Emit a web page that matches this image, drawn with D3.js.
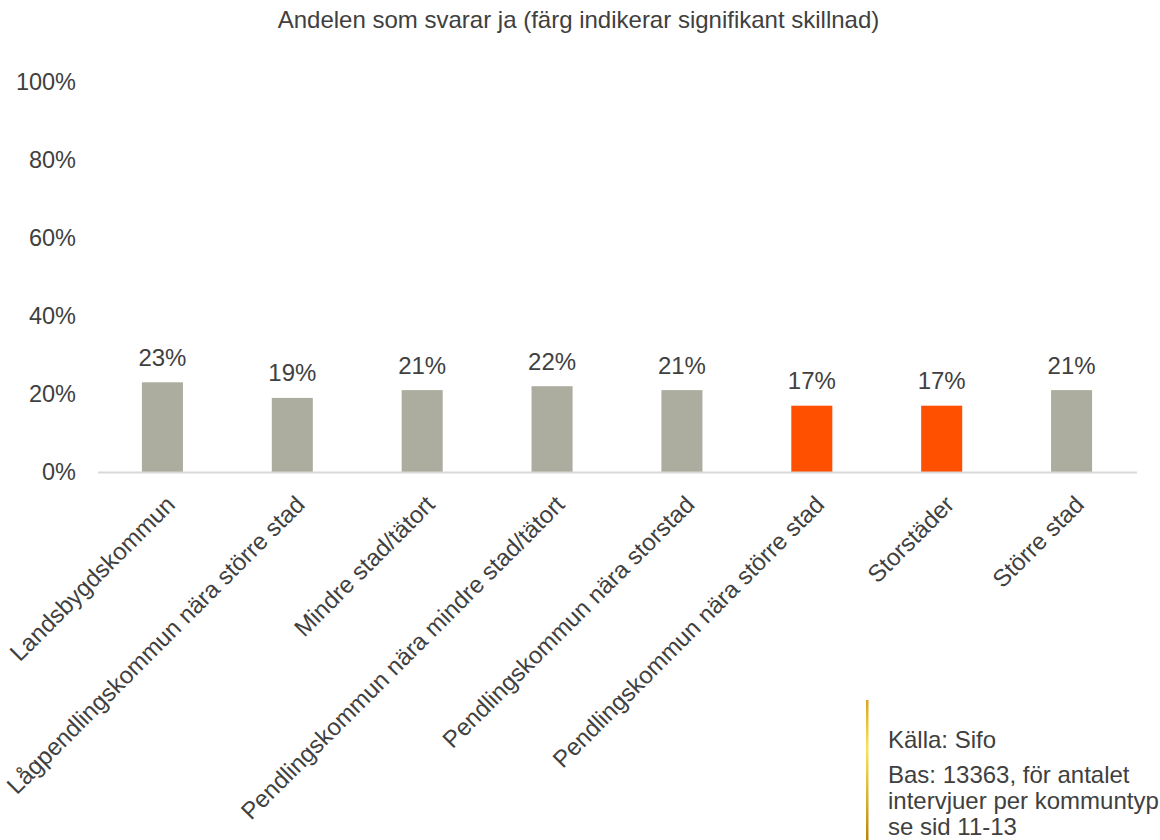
<!DOCTYPE html>
<html>
<head>
<meta charset="utf-8">
<script src="https://cdn.jsdelivr.net/npm/d3@7"></script>
<style>
  html, body { margin: 0; padding: 0; background: #ffffff; }
  svg { display: block; font-family: "Liberation Sans", Arial, Helvetica, sans-serif; }
</style>
</head>
<body>
<svg id="chart" width="1160" height="840"></svg>
<script>
// ---- Data ----
const title = "Andelen som svarar ja (färg indikerar signifikant skillnad)";
const categories = [
  "Landsbygdskommun",
  "Lågpendlingskommun nära större stad",
  "Mindre stad/tätort",
  "Pendlingskommun nära mindre stad/tätort",
  "Pendlingskommun nära storstad",
  "Pendlingskommun nära större stad",
  "Storstäder",
  "Större stad"
];
const values = [0.23, 0.19, 0.21, 0.22, 0.21, 0.17, 0.17, 0.21];
const significant = [false, false, false, false, false, true, true, false];
const yTicks = [0, 0.2, 0.4, 0.6, 0.8, 1.0];
const sourceLines = ["Källa: Sifo", "Bas: 13363, för antalet", "intervjuer per kommuntyp", "se sid 11-13"];

// ---- Styles ----
const textColor = "#404040";
const barGrey = "#adad9f";
const barOrange = "#ff5000";

const svg = d3.select("#chart");

const x = d3.scaleBand()
  .domain(categories)
  .range([97.5, 1136.5])
  .paddingInner(0.684)
  .paddingOuter(0.342);

const y = d3.scaleLinear().domain([0, 1]).range([472, 82]);

// Title
svg.append("text")
  .attr("x", 578.5).attr("y", 28)
  .attr("text-anchor", "middle")
  .attr("font-size", 24)
  .attr("fill", textColor)
  .text(title);

// Y axis (labels only)
const yAxis = d3.axisLeft(y)
  .tickValues(yTicks)
  .tickFormat(d3.format(".0%"))
  .tickSize(0)
  .tickPadding(0);
const gy = svg.append("g").attr("transform", "translate(76,0)").call(yAxis);
gy.select(".domain").remove();
gy.selectAll("text")
  .attr("font-size", 23.5)
  .attr("font-family", "Liberation Sans, Arial, sans-serif")
  .attr("fill", textColor)
  .attr("dy", "0.3em");

// Bars
svg.append("g").selectAll("rect")
  .data(values)
  .join("rect")
  .attr("x", (d, i) => x(categories[i]))
  .attr("y", d => y(d))
  .attr("width", x.bandwidth())
  .attr("height", d => y(0) - y(d))
  .attr("fill", (d, i) => significant[i] ? barOrange : barGrey);

// Baseline axis
const xAxis = d3.axisBottom(x).tickSize(0).tickFormat("");
const gx = svg.append("g").attr("transform", `translate(0,${y(0)})`).call(xAxis);
gx.select(".domain").attr("stroke", "#d9d9d9").attr("stroke-width", 2);

// Value labels
svg.append("g").selectAll("text")
  .data(values)
  .join("text")
  .attr("x", (d, i) => x(categories[i]) + x.bandwidth() / 2)
  .attr("y", d => y(d) - 16.5)
  .attr("text-anchor", "middle")
  .attr("font-size", 24)
  .attr("fill", textColor)
  .text(d => d3.format(".0%")(d));

// Category labels, rotated
svg.append("g").selectAll("text")
  .data(categories)
  .join("text")
  .attr("transform", d => `translate(${x(d) + x.bandwidth() / 2 + 14},506) rotate(-45)`)
  .attr("text-anchor", "end")
  .attr("font-size", 24)
  .attr("fill", textColor)
  .text(d => d);

// Source box with gold gradient bar
const defs = svg.append("defs");
const grad = defs.append("linearGradient")
  .attr("id", "gold").attr("x1", 0).attr("y1", 0).attr("x2", 0).attr("y2", 1);
grad.append("stop").attr("offset", "0%").attr("stop-color", "#d9a520");
grad.append("stop").attr("offset", "35%").attr("stop-color", "#f8e45c");
grad.append("stop").attr("offset", "100%").attr("stop-color", "#b8860b");
svg.append("rect")
  .attr("x", 866).attr("y", 700).attr("width", 2.5).attr("height", 140)
  .attr("fill", "url(#gold)");

const srcY = [748, 783, 809, 835];
svg.append("g").selectAll("text")
  .data(sourceLines)
  .join("text")
  .attr("x", 888)
  .attr("y", (d, i) => srcY[i])
  .attr("font-size", 24)
  .attr("fill", textColor)
  .text(d => d);
</script>
</body>
</html>
